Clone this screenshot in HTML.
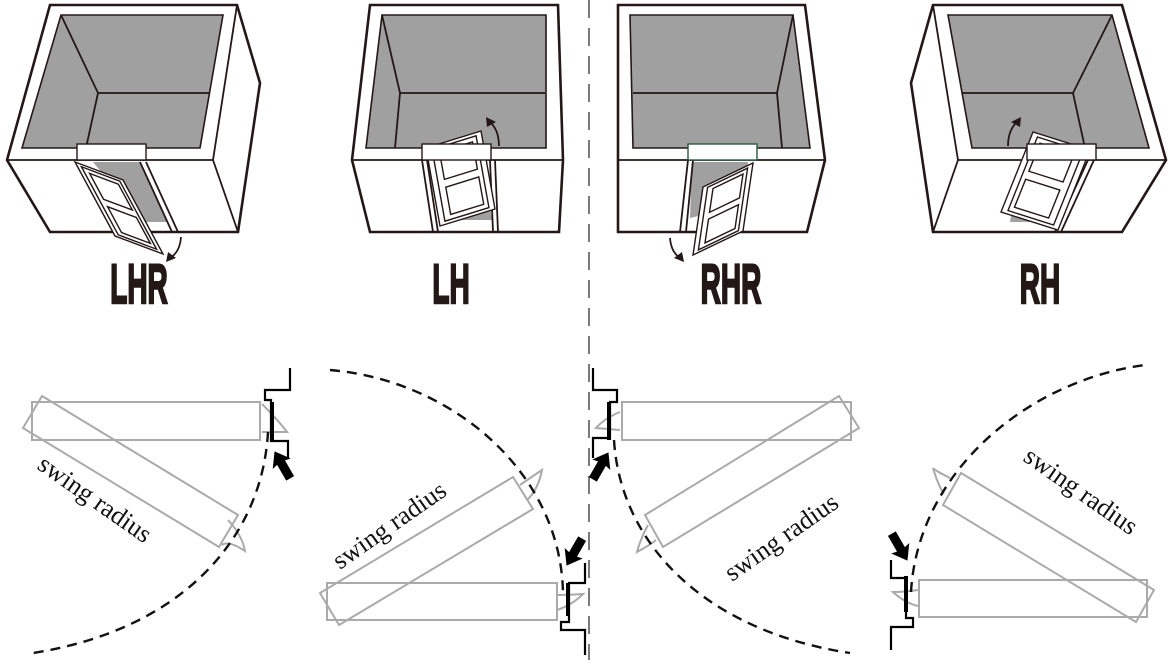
<!DOCTYPE html>
<html><head><meta charset="utf-8"><style>
html,body{margin:0;padding:0;background:#fff;}
svg{display:block;}
.o{fill:#fff;stroke:#231815;stroke-width:2.6;stroke-linejoin:miter;}
.l{fill:none;stroke:#231815;stroke-width:1.8;}
.g{fill:#a0a0a0;stroke:#231815;stroke-width:1.6;}
.t{fill:#fff;stroke:#231815;stroke-width:1.4;}
.d{fill:none;stroke:#aaa;stroke-width:2;}
.arc{fill:none;stroke:#111;stroke-width:2.4;stroke-dasharray:10 7;}
.w{fill:none;stroke:#000;stroke-width:2.2;}
.lab{font-family:"Liberation Sans",sans-serif;font-weight:bold;font-size:56px;fill:#231815;stroke:#231815;stroke-width:2.5;}
.sw{font-family:"Liberation Serif",serif;font-size:26px;fill:#111;}
.ns{vector-effect:non-scaling-stroke;}
</style></head><body>
<svg width="1176" height="660" viewBox="0 0 1176 660" xmlns="http://www.w3.org/2000/svg">
<defs>
<g id="leaf">
<polygon points="0,0 1,0 1,1 0,1" class="t ns"/>
<polygon points="0.1,0.04 0.9,0.04 0.9,0.96 0.1,0.96" class="t ns"/>
<polygon points="0.22,0.1 0.82,0.1 0.82,0.45 0.22,0.45" class="t ns"/>
<polygon points="0.22,0.55 0.82,0.55 0.82,0.9 0.22,0.9" class="t ns"/>
</g>
<polygon id="arr" points="0,-13 8,-2 3.5,-3 3.5,11 -3.5,11 -3.5,-3 -8,-2" fill="#000"/>
</defs>

<line x1="589" y1="0" x2="589" y2="660" stroke="#333" stroke-width="1.3" stroke-dasharray="18 10"/>

<!-- LHR box -->
<polygon class="o" points="50,5 237,5 260,83 238,232 50,232 7,160"/>
<polyline class="l" points="7,160 213,160 238,232"/>
<line class="l" x1="237" y1="5" x2="213" y2="160"/>
<polygon class="g" points="61,15 223,15 200,148 22,148"/>
<polyline class="l" points="61,15 98,93 209,93"/>
<line class="l" x1="98" y1="93" x2="86" y2="148"/>
<polygon fill="#a0a0a0" points="93,162 140,162 167,222 143,222"/>
<line class="l" x1="140" y1="162" x2="172" y2="232" stroke-width="1.3"/>
<line class="l" x1="146" y1="162" x2="178" y2="232" stroke-width="1.3"/>
<g transform="matrix(48,18,40,74,75,162)"><use href="#leaf"/></g>
<rect x="77" y="144" width="69" height="16" class="t"/>
<path d="M181,237 Q180,252 170,258" class="l" stroke-width="2.5"/>
<polygon points="166,262 168,252 176,258" fill="#231815"/>
<text class="lab" text-anchor="middle" transform="translate(139,303) scale(0.5,1)">LHR</text>

<!-- LH box -->
<polygon class="o" points="370,5 558,5 563,160 559,232 370,232 352,160"/>
<line class="l" x1="352" y1="160" x2="563" y2="160"/>
<polygon class="g" points="382,15 546,15 546,148 366,148"/>
<polyline class="l" points="382,15 400,93 545,93"/>
<line class="l" x1="400" y1="93" x2="395" y2="148"/>
<polygon fill="#a0a0a0" points="455,212 490,206 492,220 455,220"/>
<line class="l" x1="422" y1="160" x2="433" y2="232" stroke-width="1.3"/>
<line class="l" x1="427" y1="160" x2="438" y2="232" stroke-width="1.3"/>
<line class="l" x1="490" y1="160" x2="493" y2="232" stroke-width="1.3"/>
<line class="l" x1="495" y1="160" x2="498" y2="232" stroke-width="1.3"/>
<g transform="matrix(55,-17,14,78,426,148)"><use href="#leaf"/></g>
<rect x="422" y="144" width="69" height="16" class="t"/>
<path d="M499,146 Q499,130 490,122" class="l" stroke-width="2.5"/>
<polygon points="486,117 496,122 487,127" fill="#231815"/>
<text class="lab" text-anchor="middle" transform="translate(451,303) scale(0.5,1)">LH</text>

<!-- RHR box -->
<polygon class="o" points="618,5 805,5 825,160 807,232 618,232"/>
<line class="l" x1="618" y1="160" x2="825" y2="160"/>
<polygon class="g" points="630,15 793,15 810,148 633,148"/>
<polyline class="l" points="633,93 777,93 793,15"/>
<line class="l" x1="777" y1="93" x2="782" y2="148"/>
<polygon fill="#a0a0a0" points="692,162 748,162 745,205 690,218"/>
<line class="l" x1="688" y1="160" x2="680" y2="232" stroke-width="1.3"/>
<line class="l" x1="693" y1="160" x2="686" y2="232" stroke-width="1.3"/>
<g transform="matrix(50,-24,-10,68,703,187)"><use href="#leaf"/></g>
<rect x="688" y="144" width="69" height="16" class="t" style="stroke:#2a5a3a"/>
<path d="M670,238 Q671,252 680,258" class="l" stroke-width="2.5"/>
<polygon points="684,262 674,258 682,252" fill="#231815"/>
<text class="lab" text-anchor="middle" transform="translate(731,303) scale(0.5,1)">RHR</text>

<!-- RH box -->
<polygon class="o" points="933,5 1122,5 1166,160 1122,232 933,232 911,83"/>
<polyline class="l" points="933,5 958,160 933,232"/>
<line class="l" x1="958" y1="160" x2="1166" y2="160"/>
<polygon class="g" points="948,15 1112,15 1149,148 972,148"/>
<polyline class="l" points="962,93 1073,93 1112,15"/>
<line class="l" x1="1073" y1="93" x2="1085" y2="148"/>
<polygon fill="#a0a0a0" points="1012,210 1040,216 1040,222 1010,222"/>
<line class="l" x1="1088" y1="160" x2="1055" y2="232" stroke-width="1.3"/>
<line class="l" x1="1094" y1="160" x2="1061" y2="232" stroke-width="1.3"/>
<g transform="matrix(-57,-18,-32,80,1090,150)"><use href="#leaf"/></g>
<rect x="1027" y="144" width="69" height="16" class="t"/>
<path d="M1008,146 Q1008,130 1017,122" class="l" stroke-width="2.5"/>
<polygon points="1021,117 1020,127 1011,122" fill="#231815"/>
<text class="lab" text-anchor="middle" transform="translate(1040,303) scale(0.5,1)">RH</text>

<!-- Bottom 1 (LHR) -->
<polygon class="d" points="42,396 238,515 219,547 23,428"/>
<rect class="d" x="32" y="402" width="228" height="38"/>
<path d="M262,404 Q278,420 287,432 L262,432" class="d" stroke-width="1.5"/>
<path d="M228,520 Q242,535 245,551 Q228,540 222,545" class="d" stroke-width="1.5"/>
<path class="arc" d="M268,432 C262,540 180,630 33,653"/>
<path class="w" d="M290,368 V390 H265 V400 H271 V441 H288 V459"/>
<line x1="272" y1="402" x2="272" y2="441" stroke="#000" stroke-width="4"/>
<use href="#arr" transform="translate(283,466) rotate(-30) scale(1.3)"/>
<text class="sw" transform="translate(36,468) rotate(35)">swing radius</text>

<!-- Bottom 2 (LH) -->
<polygon class="d" points="320,593 513,477 533,509 339,625"/>
<rect class="d" x="327" y="583" width="230" height="37"/>
<path d="M520,485 Q530,478 542,470 Q538,490 527,500" class="d" stroke-width="1.5"/>
<path d="M557,595 Q570,595 583,594 Q572,605 557,610" class="d" stroke-width="1.5"/>
<path class="arc" d="M330,370 C450,380 560,470 563,592"/>
<path class="w" d="M585,563 V583 H569 V622 H561 V630 H585 V655"/>
<line x1="568" y1="583" x2="568" y2="616" stroke="#000" stroke-width="4"/>
<use href="#arr" transform="translate(575,551) rotate(-150) scale(1.3)"/>
<text class="sw" transform="translate(340,570) rotate(-35)">swing radius</text>

<!-- Bottom 3 (RHR) -->
<polygon class="d" points="839,396 859,428 663,547 645,515"/>
<rect class="d" x="622" y="402" width="229" height="38"/>
<path d="M620,412 Q605,418 596,428 L620,430" class="d" stroke-width="1.5"/>
<path d="M648,525 Q640,540 637,552 Q650,545 656,540" class="d" stroke-width="1.5"/>
<path class="arc" d="M614,440 C620,540 700,630 850,653"/>
<path class="w" d="M593,368 V390 H617 V402 H610 V438 H593 V458"/>
<line x1="609" y1="402" x2="609" y2="440" stroke="#000" stroke-width="4"/>
<use href="#arr" transform="translate(600,467) rotate(30) scale(1.3)"/>
<text class="sw" transform="translate(732,582) rotate(-35)">swing radius</text>

<!-- Bottom 4 (RH) -->
<polygon class="d" points="961,473 1154,590 1136,622 943,505"/>
<rect class="d" x="919" y="580" width="228" height="37"/>
<path d="M950,478 Q934,470 933,468 Q938,485 944,494" class="d" stroke-width="1.5"/>
<path d="M918,590 Q905,592 893,592 Q905,603 918,606" class="d" stroke-width="1.5"/>
<path class="arc" d="M911,592 C918,470 1030,380 1145,365"/>
<path class="w" d="M891,560 V578 H906 V618 H913 V627 H891 V650"/>
<line x1="906" y1="576" x2="906" y2="612" stroke="#000" stroke-width="4"/>
<use href="#arr" transform="translate(899,546) rotate(150) scale(1.3)"/>
<text class="sw" transform="translate(1022,460) rotate(35)">swing radius</text>
</svg>
</body></html>
